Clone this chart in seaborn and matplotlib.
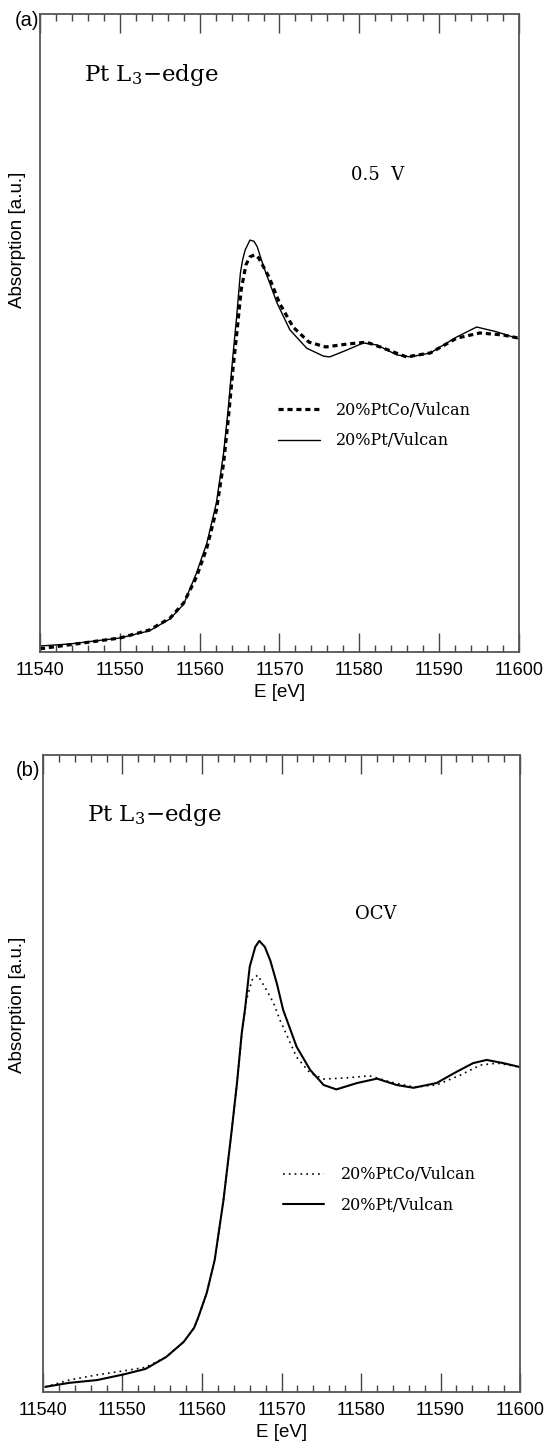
import matplotlib
matplotlib.use("Agg")
import matplotlib.pyplot as plt
from matplotlib.ticker import MultipleLocator
import seaborn as sns
import pandas as pd

# ---- data (normalised absorption) ----
# (a) 0.5 V
e_a_pt = [11540, 11543.7, 11550, 11553.7, 11556.3, 11558.0, 11559.6, 11560.9, 11562.1, 11563.0,
          11563.6, 11564.2, 11564.6, 11565.1, 11565.4, 11565.7, 11566.3, 11566.8, 11567.2, 11568.0,
          11569.7, 11571.3, 11573.4, 11575.5, 11576.3, 11578.4, 11580.5, 11582.2, 11584.7, 11586.4,
          11588.9, 11592.2, 11594.7, 11597.2, 11600]
mu_a_pt = [0.015, 0.020, 0.035, 0.053, 0.083, 0.120, 0.198, 0.273, 0.374, 0.499,
           0.614, 0.750, 0.833, 0.950, 0.985, 1.008, 1.033, 1.030, 1.017, 0.967,
           0.875, 0.808, 0.762, 0.742, 0.740, 0.757, 0.775, 0.770, 0.745, 0.740,
           0.750, 0.790, 0.815, 0.803, 0.785]

e_a_ptco = [11540, 11543.7, 11550, 11553.7, 11556.3, 11558.0, 11559.6, 11560.9, 11562.1, 11563.0,
            11563.6, 11564.2, 11564.7, 11565.2, 11565.8, 11566.3, 11566.9, 11567.4, 11568.7, 11570.0,
            11571.7, 11573.7, 11575.8, 11578.4, 11580.9, 11582.6, 11585.9, 11588.9, 11592.2, 11595.1,
            11598.0, 11600]
mu_a_ptco = [0.008, 0.018, 0.035, 0.055, 0.085, 0.123, 0.188, 0.261, 0.356, 0.474,
             0.587, 0.715, 0.808, 0.908, 0.971, 0.991, 0.996, 0.988, 0.940, 0.875,
             0.815, 0.777, 0.765, 0.772, 0.777, 0.765, 0.740, 0.750, 0.787, 0.800,
             0.795, 0.787]

# (b) OCV
e_b_pt = [11540.3, 11543.3, 11546.8, 11550.1, 11552.9, 11555.5, 11557.7, 11559.0, 11559.5, 11560.6,
          11561.6, 11562.7, 11563.7, 11564.4, 11565.0, 11565.4, 11566.0, 11566.7, 11567.2, 11567.9,
          11568.6, 11569.4, 11570.2, 11571.9, 11573.6, 11575.3, 11576.9, 11579.5, 11582.0, 11584.5,
          11586.6, 11589.5, 11592.0, 11594.1, 11595.8, 11597.9, 11600]
mu_b_pt = [0.013, 0.023, 0.030, 0.044, 0.058, 0.088, 0.126, 0.161, 0.186, 0.249,
           0.332, 0.482, 0.651, 0.776, 0.902, 0.960, 1.068, 1.118, 1.133, 1.118,
           1.083, 1.027, 0.960, 0.867, 0.809, 0.771, 0.760, 0.776, 0.787, 0.771,
           0.764, 0.776, 0.804, 0.826, 0.834, 0.826, 0.816]

e_b_ptco = [11540.3, 11543.3, 11546.8, 11550.1, 11552.9, 11555.5, 11557.7, 11559.0, 11559.5, 11560.6,
            11561.6, 11562.7, 11563.7, 11564.4, 11565.0, 11565.3, 11565.6, 11566.3, 11567.0, 11568.1,
            11569.0, 11569.8, 11570.2, 11571.9, 11573.6, 11575.3, 11578.2, 11581.1, 11583.6, 11586.6,
            11589.5, 11592.5, 11595.0, 11597.1, 11600]
mu_b_ptco = [0.013, 0.030, 0.043, 0.053, 0.062, 0.088, 0.126, 0.161, 0.186, 0.249,
             0.332, 0.482, 0.651, 0.776, 0.897, 0.942, 0.985, 1.035, 1.047, 1.010,
             0.977, 0.934, 0.917, 0.841, 0.801, 0.786, 0.789, 0.794, 0.779, 0.766,
             0.771, 0.796, 0.821, 0.826, 0.816]

xticks = [11540, 11550, 11560, 11570, 11580, 11590, 11600]

sns.set_style("white")
plt.rcParams["font.family"] = ["Liberation Sans", "DejaVu Sans"]
plt.rcParams["mathtext.fontset"] = "dejavuserif"
plt.rcParams["text.color"] = "black"
plt.rcParams["axes.labelcolor"] = "black"
plt.rcParams["xtick.labelcolor"] = "black"

fig = plt.figure(figsize=(5.44, 14.44), dpi=100)
ax_a = fig.add_axes([0.0735, 0.5485, 0.8805, 0.4418])
ax_b = fig.add_axes([0.079, 0.036, 0.877, 0.4412])

serif = "DejaVu Serif"


def style_axes(ax, ylab_xy):
    ax.set_xlim(11540, 11600)
    ax.set_ylim(0, 1.6)
    ax.set_yticks([])
    ax.set_xticks(xticks)
    ax.set_xticklabels([str(t) for t in xticks], fontsize=13)
    ax.xaxis.set_minor_locator(MultipleLocator(2))
    ax.tick_params(axis="x", which="major", direction="in", length=14, width=1,
                   top=True, bottom=True, color="#444444", pad=7)
    ax.tick_params(axis="x", which="minor", direction="in", length=5, width=1,
                   top=True, bottom=True, color="#444444")
    for s in ax.spines.values():
        s.set_color("#555555")
        s.set_linewidth(1.3)
    ax.set_xlabel("E [eV]", fontsize=13.5)
    ax.xaxis.set_label_coords(0.5, -0.05)
    ax.set_ylabel("Absorption [a.u.]", fontsize=13.5)
    ax.yaxis.set_label_coords(*ylab_xy)


# ---- panel (a) ----
df_a1 = pd.DataFrame({"E": e_a_ptco, "mu": mu_a_ptco})
df_a2 = pd.DataFrame({"E": e_a_pt, "mu": mu_a_pt})
sns.lineplot(data=df_a1, x="E", y="mu", ax=ax_a, color="black", lw=2.3,
             linestyle=(0, (1.6, 1.2)), label="20%PtCo/Vulcan")
sns.lineplot(data=df_a2, x="E", y="mu", ax=ax_a, color="black", lw=1.0,
             label="20%Pt/Vulcan")
style_axes(ax_a, (-0.029, 0.646))
ax_a.legend(loc="upper left", bbox_to_anchor=(0.497, 0.392), frameon=False,
            borderpad=0, borderaxespad=0, handlelength=2.6, handletextpad=1.0,
            labelspacing=0.85, prop={"family": serif, "size": 11.5})
ax_a.text(0.092, 0.905, "Pt L$_3$\u2212edge", transform=ax_a.transAxes, family=serif,
          fontsize=16.5, va="center", ha="left")
ax_a.text(0.650, 0.748, "0.5  V", transform=ax_a.transAxes, family=serif,
          fontsize=13, va="center", ha="left")
fig.text(39 / 544, 1 - 21 / 1444, "(a)", fontsize=14.5, ha="right", va="center")

# ---- panel (b) ----
df_b1 = pd.DataFrame({"E": e_b_ptco, "mu": mu_b_ptco})
df_b2 = pd.DataFrame({"E": e_b_pt, "mu": mu_b_pt})
sns.lineplot(data=df_b1, x="E", y="mu", ax=ax_b, color="black", lw=1.2,
             linestyle=(0, (1, 2.5)), label="20%PtCo/Vulcan")
sns.lineplot(data=df_b2, x="E", y="mu", ax=ax_b, color="black", lw=1.5,
             label="20%Pt/Vulcan")
style_axes(ax_b, (-0.036, 0.608))
ax_b.legend(loc="upper left", bbox_to_anchor=(0.503, 0.354), frameon=False,
            borderpad=0, borderaxespad=0, handlelength=2.6, handletextpad=1.0,
            labelspacing=0.85, prop={"family": serif, "size": 11.5})
ax_b.text(0.092, 0.905, "Pt L$_3$\u2212edge", transform=ax_b.transAxes, family=serif,
          fontsize=16.5, va="center", ha="left")
ax_b.text(0.655, 0.75, "OCV", transform=ax_b.transAxes, family=serif,
          fontsize=13, va="center", ha="left")
fig.text(40 / 544, 1 - 770 / 1444, "(b)", fontsize=14.5, ha="right", va="center")

fig.savefig("out.png", dpi=100)
